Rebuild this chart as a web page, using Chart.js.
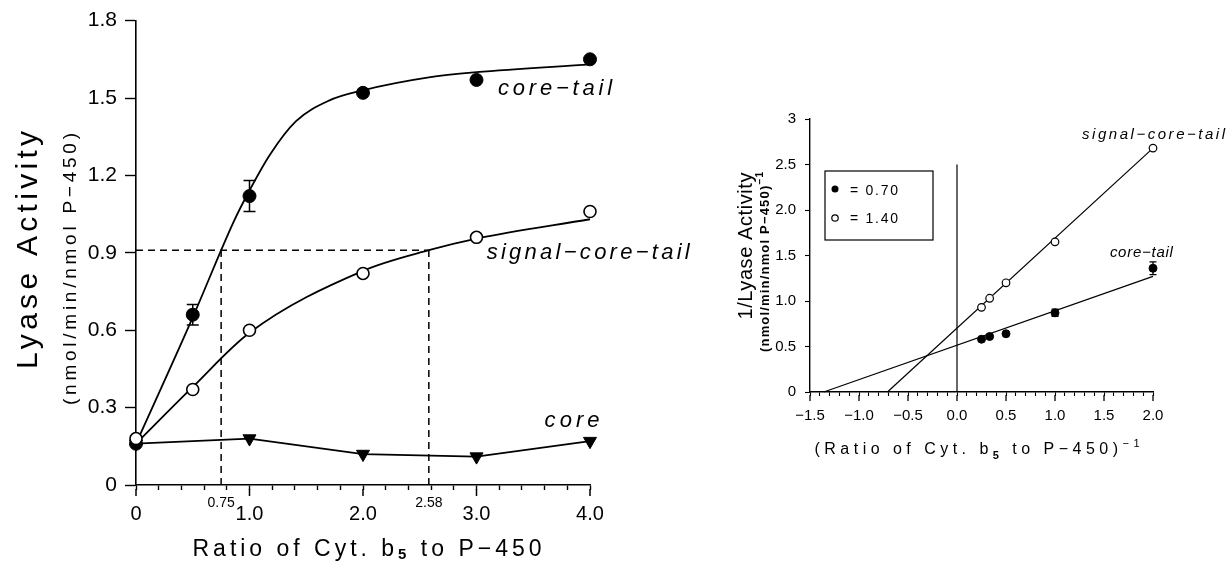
<!DOCTYPE html>
<html>
<head>
<meta charset="utf-8">
<title>Lyase activity vs cytochrome b5 ratio</title>
<script src="https://cdn.jsdelivr.net/npm/chart.js@4.4.1/dist/chart.umd.min.js"></script>
<style>
  html, body { margin: 0; padding: 0; background: #fff; }
  #page { position: relative; width: 1232px; height: 563px; overflow: hidden; }
  .panel { position: absolute; top: 0; height: 563px; }
  #leftPanel { left: 0; width: 725px; }
  #rightPanel { left: 725px; width: 507px; }
</style>
</head>
<body>
<div id="page">
  <div class="panel" id="leftPanel"><canvas id="activityChart"></canvas></div>
  <div class="panel" id="rightPanel"><canvas id="reciprocalChart"></canvas></div>
</div>
<script>
// ---- left panel: lyase activity vs b5 / P-450 ratio ----
const ratios = [0, 0.5, 1.0, 2.0, 3.0, 4.0];
const coreTail = [0.16, 0.66, 1.12, 1.52, 1.57, 1.65];
const coreTailErr = [0, 0.04, 0.06, 0, 0, 0];
const signalCoreTail = [0.18, 0.37, 0.60, 0.82, 0.96, 1.06];
const coreRatios = [0, 1.0, 2.0, 3.0, 4.0];
const core = [0.16, 0.18, 0.12, 0.11, 0.17];

// hand-drawn fitted curves
const coreTailCurveX = [0, 0.5, 0.86, 0.98, 1.18, 1.41, 1.7, 2.0, 2.58, 3.0, 4.0];
const coreTailCurveY = [0.16, 0.65, 1.02, 1.125, 1.28, 1.41, 1.49, 1.53, 1.58, 1.60, 1.63];
const signalCurveX = [0, 0.5, 1.0, 2.0, 2.58, 3.0, 4.0];
const signalCurveY = [0.16, 0.38, 0.59, 0.83, 0.91, 0.955, 1.03];

// half-maximal activity guide lines
const halfActivity = 0.91;
const halfRatios = [0.75, 2.58];
const halfRatioLabels = ['0.75', '2.58'];

// ---- right panel: double reciprocal plot ----
const invRatios = [0.25, 0.333, 0.5, 1.0, 2.0];
const invCoreTail = [0.58, 0.61, 0.64, 0.87, 1.36];
const invCoreTailErr = [0, 0, 0, 0.04, 0.07];
const invSignal = [0.93, 1.03, 1.20, 1.65, 2.68];
const coreTailFitX = [-1.36, 2.0];
const coreTailFitY = [0, 1.27];
const signalFitX = [-0.71, 2.0];
const signalFitY = [0, 2.68];
const zeroLineY = [0, 2.5];
const legendValues = ['0.70', '1.40'];

const FONT = "'Liberation Sans', Arial, Helvetica, sans-serif";
const pts = (xs, ys) => xs.map((x, i) => ({ x: x, y: ys[i] }));
const MINUS = '\u2212';
const DASH = [7, 5];

// draws a run of text stretched to a given width (the figure uses wide letter spacing)
function spacedText(ctx, parts, x, y, width, align, angle) {
    ctx.save();
    ctx.translate(x, y);
    if (angle) ctx.rotate(angle);
    ctx.fillStyle = '#000';
    ctx.textBaseline = 'alphabetic';
    ctx.textAlign = 'left';
    const hasSpacing = 'letterSpacing' in ctx;
    let natural = 0, chars = 0;
    const widths = parts.map(p => {
        ctx.font = p.font;
        if (hasSpacing) ctx.letterSpacing = '0px';
        const w = ctx.measureText(p.text).width;
        natural += w;
        chars += [...p.text].length;
        return w;
    });
    const gap = chars > 1 ? (width - natural) / (chars - 1) : 0;
    let cx = align === 'left' ? 0 : -width / 2;
    parts.forEach((p, i) => {
        ctx.font = p.font;
        if (hasSpacing) ctx.letterSpacing = gap + 'px';
        ctx.fillText(p.text, cx, p.dy || 0);
        cx += widths[i] + gap * [...p.text].length;
    });
    ctx.restore();
}

function drawErrorBars(chart, index, errs, capHalf, lw) {
    const ctx = chart.ctx;
    const yScale = chart.scales.y;
    const meta = chart.getDatasetMeta(index);
    const values = chart.data.datasets[index].data;
    ctx.save();
    ctx.strokeStyle = '#000';
    ctx.lineWidth = lw;
    meta.data.forEach((pt, i) => {
        const e = errs[i];
        if (!e) return;
        const top = yScale.getPixelForValue(values[i].y + e);
        const bot = yScale.getPixelForValue(values[i].y - e);
        ctx.beginPath();
        ctx.moveTo(pt.x, top); ctx.lineTo(pt.x, bot);
        ctx.moveTo(pt.x - capHalf, top); ctx.lineTo(pt.x + capHalf, top);
        ctx.moveTo(pt.x - capHalf, bot); ctx.lineTo(pt.x + capHalf, bot);
        ctx.stroke();
    });
    ctx.restore();
}

// longer tick marks on the labelled x values
function drawMajorTicks(chart, step, from, to, lw) {
    const ctx = chart.ctx;
    const xScale = chart.scales.x;
    const bottom = chart.chartArea.bottom;
    ctx.save();
    ctx.strokeStyle = '#000';
    ctx.lineWidth = lw;
    for (let v = xScale.min; v <= xScale.max + 1e-9; v += step) {
        const px = xScale.getPixelForValue(v);
        ctx.beginPath();
        ctx.moveTo(px, bottom + from);
        ctx.lineTo(px, bottom + to);
        ctx.stroke();
    }
    ctx.restore();
}

function lineSet(data, extra) {
    return Object.assign({
        data: data,
        showLine: true,
        borderColor: '#000',
        borderWidth: 1.8,
        pointRadius: 0,
        clip: false
    }, extra || {});
}

const activityDecor = {
    id: 'activityDecor',
    afterDatasetsDraw(chart) {
        drawErrorBars(chart, 1, coreTailErr, 6, 1.5);
    },
    afterDraw(chart) {
        const ctx = chart.ctx;
        const { x, y } = chart.scales;
        const bottom = chart.chartArea.bottom;
        drawMajorTicks(chart, 1, 4, 11, 1.5);

        // labels of the half-maximal ratios
        ctx.save();
        ctx.fillStyle = '#000';
        ctx.font = '14px ' + FONT;
        ctx.textAlign = 'center';
        ctx.textBaseline = 'alphabetic';
        halfRatios.forEach((r, i) => ctx.fillText(halfRatioLabels[i], x.getPixelForValue(r), bottom + 22));
        ctx.restore();

        // series labels
        const lab = (text, vx, vy, w, size) => spacedText(ctx, [{ text: text, font: 'italic ' + size + 'px ' + FONT }],
            x.getPixelForValue(vx), y.getPixelForValue(vy), w, 'left');
        lab('core' + MINUS + 'tail', 3.19, 1.513, 114, 22);
        lab('signal' + MINUS + 'core' + MINUS + 'tail', 3.09, 0.876, 203, 22);
        lab('core', 3.60, 0.224, 55, 22);

        // axis titles
        spacedText(ctx, [
            { text: 'Ratio of Cyt. b', font: '23px ' + FONT },
            { text: '5', font: 'bold 15px ' + FONT, dy: 3 },
            { text: ' to P' + MINUS + '450', font: '23px ' + FONT }
        ], 367, 556, 349, 'center');
        spacedText(ctx, [{ text: 'Lyase Activity', font: '30px ' + FONT }], 37, 250, 238, 'center', -Math.PI / 2);
        spacedText(ctx, [{ text: '(nmol/min/nmol P' + MINUS + '450)', font: '19px ' + FONT }], 76, 269, 272, 'center', -Math.PI / 2);
    }
};

new Chart(document.getElementById('activityChart'), {
    type: 'scatter',
    data: {
        datasets: [
            { label: 'signal-core-tail', data: pts(ratios, signalCoreTail), pointRadius: 6, pointBackgroundColor: '#fff', pointBorderColor: '#000', pointBorderWidth: 1.6, clip: false },
            { label: 'core-tail', data: pts(ratios, coreTail), pointRadius: 6.5, pointBackgroundColor: '#000', pointBorderColor: '#000', clip: false },
            lineSet(pts(coreRatios, core), { label: 'core', pointStyle: 'triangle', pointRotation: 180, pointRadius: 7.5, pointBackgroundColor: '#000', pointBorderColor: '#000', pointBorderWidth: 1 }),
            lineSet(pts(coreTailCurveX, coreTailCurveY), { label: 'core-tail fit', cubicInterpolationMode: 'monotone' }),
            lineSet(pts(signalCurveX, signalCurveY), { label: 'signal fit', cubicInterpolationMode: 'monotone' }),
            lineSet([{ x: 0, y: halfActivity }, { x: halfRatios[1], y: halfActivity }], { borderDash: DASH, borderWidth: 1.5 }),
            lineSet([{ x: halfRatios[0], y: 0 }, { x: halfRatios[0], y: halfActivity }], { borderDash: DASH, borderWidth: 1.5 }),
            lineSet([{ x: halfRatios[1], y: 0 }, { x: halfRatios[1], y: halfActivity }], { borderDash: DASH, borderWidth: 1.5 })
        ]
    },
    options: {
        responsive: true,
        maintainAspectRatio: false,
        animation: false,
        layout: { padding: { left: 0, right: 135, top: 19, bottom: 0 } },
        plugins: { legend: { display: false }, tooltip: { enabled: false } },
        scales: {
            x: {
                type: 'linear', min: 0, max: 4,
                afterFit: s => { s.height = 78; },
                border: { display: true, color: '#000', width: 1.6 },
                grid: { drawOnChartArea: false, drawTicks: true, tickLength: 5, tickColor: '#000', tickWidth: 1.4 },
                ticks: {
                    stepSize: 0.2, autoSkip: false, maxRotation: 0, color: '#000', padding: 12,
                    font: { family: FONT, size: 20 },
                    callback: v => Math.abs(v - Math.round(v)) > 1e-6 ? '' : (v === 0 ? '0' : v.toFixed(1))
                }
            },
            y: {
                min: 0, max: 1.8,
                afterFit: s => { s.width = 136; },
                border: { display: true, color: '#000', width: 1.6 },
                grid: { drawOnChartArea: false, drawTicks: true, tickLength: 11, tickColor: '#000', tickWidth: 1.4 },
                ticks: {
                    stepSize: 0.3, color: '#000', padding: 8,
                    font: { family: FONT, size: 21 },
                    callback: v => v === 0 ? '0' : v.toFixed(1)
                }
            }
        }
    },
    plugins: [activityDecor]
});

const reciprocalDecor = {
    id: 'reciprocalDecor',
    afterDatasetsDraw(chart) {
        drawErrorBars(chart, 0, invCoreTailErr, 3.5, 1.3);
    },
    afterDraw(chart) {
        const ctx = chart.ctx;
        const { x, y } = chart.scales;
        drawMajorTicks(chart, 0.5, 3, 9, 1.3);

        // legend box
        ctx.save();
        ctx.strokeStyle = '#000';
        ctx.lineWidth = 1.2;
        ctx.strokeRect(100, 171, 108, 69);
        ctx.fillStyle = '#000';
        ctx.beginPath(); ctx.arc(110, 189, 3.5, 0, Math.PI * 2); ctx.fill();
        ctx.fillStyle = '#fff';
        ctx.beginPath(); ctx.arc(110, 218, 3.2, 0, Math.PI * 2); ctx.fill(); ctx.stroke();
        ctx.restore();
        spacedText(ctx, [{ text: '= ' + legendValues[0], font: '14px ' + FONT }], 125, 195, 48, 'left');
        spacedText(ctx, [{ text: '= ' + legendValues[1], font: '14px ' + FONT }], 125, 223, 48, 'left');

        // series labels
        const lab = (text, vx, vy, w) => spacedText(ctx, [{ text: text, font: 'italic 15px ' + FONT }],
            x.getPixelForValue(vx), y.getPixelForValue(vy), w, 'left');
        lab('signal' + MINUS + 'core' + MINUS + 'tail', 1.276, 2.78, 143);
        lab('core' + MINUS + 'tail', 1.56, 1.48, 63);

        // axis titles
        spacedText(ctx, [
            { text: '(Ratio of Cyt. b', font: '16px ' + FONT },
            { text: '5', font: 'bold 11px ' + FONT, dy: 5 },
            { text: ' to P' + MINUS + '450)', font: '16px ' + FONT },
            { text: MINUS + '1', font: '11px ' + FONT, dy: -7 }
        ], 252, 454, 325, 'center');
        spacedText(ctx, [{ text: '1/Lyase Activity', font: '20px ' + FONT }], 27, 246, 147, 'center', -Math.PI / 2);
        spacedText(ctx, [
            { text: '(nmol/min/nmol P' + MINUS + '450)', font: 'bold 13px ' + FONT },
            { text: MINUS + '1', font: 'bold 10px ' + FONT, dy: -6 }
        ], 44, 262, 180, 'center', -Math.PI / 2);
    }
};

new Chart(document.getElementById('reciprocalChart'), {
    type: 'scatter',
    data: {
        datasets: [
            { label: 'core-tail', data: pts(invRatios, invCoreTail), pointRadius: 4, pointBackgroundColor: '#000', pointBorderColor: '#000', clip: false },
            { label: 'signal-core-tail', data: pts(invRatios, invSignal), pointRadius: 3.8, pointBackgroundColor: '#fff', pointBorderColor: '#000', pointBorderWidth: 1.2, clip: false },
            lineSet(pts(coreTailFitX, coreTailFitY), { borderWidth: 1.2 }),
            lineSet(pts(signalFitX, signalFitY), { borderWidth: 1.2 }),
            lineSet(pts([0, 0], zeroLineY), { borderWidth: 1.2 })
        ]
    },
    options: {
        responsive: true,
        maintainAspectRatio: false,
        animation: false,
        layout: { padding: { left: 0, right: 79, top: 119, bottom: 0 } },
        plugins: { legend: { display: false }, tooltip: { enabled: false } },
        scales: {
            x: {
                type: 'linear', min: -1.5, max: 2.0,
                afterFit: s => { s.height = 171; },
                border: { display: true, color: '#000', width: 1.4 },
                grid: { drawOnChartArea: false, drawTicks: true, tickLength: 4, tickColor: '#000', tickWidth: 1.1 },
                ticks: {
                    stepSize: 0.1, autoSkip: false, maxRotation: 0, color: '#000', padding: 11,
                    font: { family: FONT, size: 15 },
                    callback: v => Math.abs(v * 2 - Math.round(v * 2)) > 1e-6 ? '' : v.toFixed(1).replace('-', MINUS)
                }
            },
            y: {
                min: 0, max: 3,
                afterFit: s => { s.width = 85; },
                border: { display: true, color: '#000', width: 1.4 },
                grid: { drawOnChartArea: false, drawTicks: true, tickLength: 5, tickColor: '#000', tickWidth: 1.1 },
                ticks: {
                    stepSize: 0.5, color: '#000', padding: 9,
                    font: { family: FONT, size: 15 },
                    callback: v => (v === 0 || v === 3) ? String(v) : v.toFixed(1)
                }
            }
        }
    },
    plugins: [reciprocalDecor]
});
</script>
</body>
</html>
